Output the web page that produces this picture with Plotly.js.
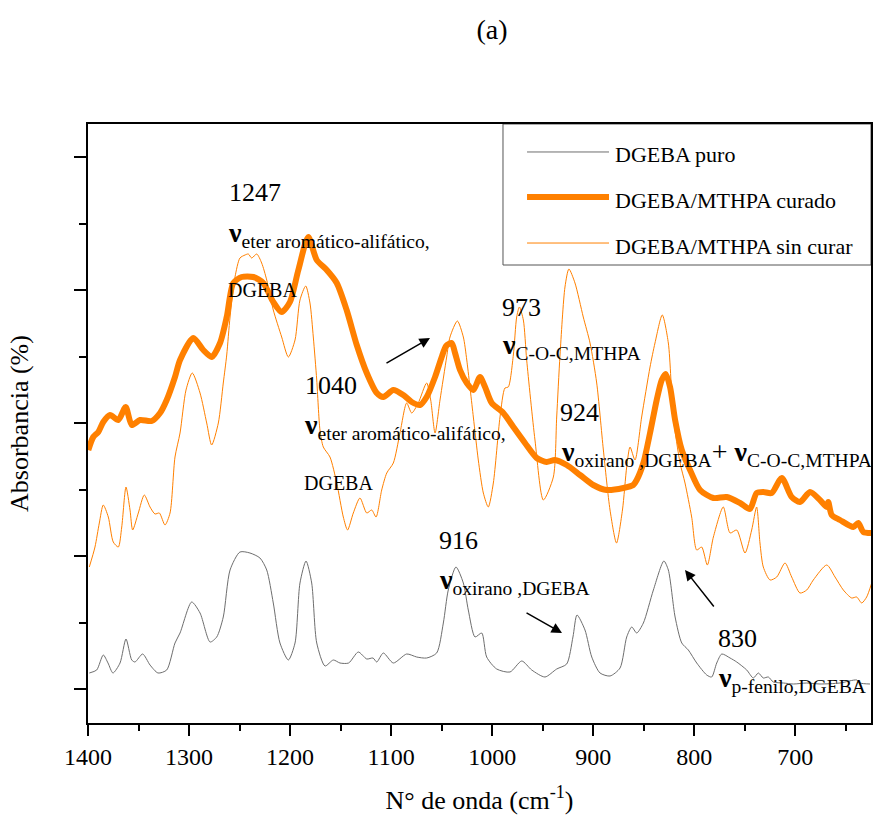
<!DOCTYPE html>
<html>
<head>
<meta charset="utf-8">
<script src="https://cdn.plot.ly/plotly-3.0.1.min.js"></script>
<style>html,body{margin:0;padding:0;background:#fff}</style>
</head>
<body>
<div id="chart" style="width:885px;height:816px"></div>
<script>
// FTIR spectra, 1400–625 cm-1: [wavenumber, absorbance (arbitrary, vertically offset)]
const puro = [
  [1398.7,0.50],[1391.4,0.53],[1384.9,0.68],[1380.2,0.60],[1375.3,0.50],[1368.3,0.60],[1362.4,0.84],
  [1356.7,0.63],[1353.5,0.61],[1345.9,0.69],[1338.6,0.58],[1330.7,0.50],[1322.1,0.53],[1313.9,0.80],
  [1308.9,0.90],[1297.4,1.21],[1289.1,1.10],[1279.2,0.81],[1272.6,0.86],[1266.1,1.06],[1259.4,1.53],
  [1249.6,1.71],[1239.7,1.70],[1229.8,1.65],[1223.1,1.53],[1216.6,1.20],[1210.0,0.80],[1201.7,0.63],
  [1195.1,0.80],[1190.2,1.40],[1184.2,1.62],[1178.6,1.40],[1173.6,0.80],[1165.4,0.57],[1157.2,0.63],
  [1150.6,0.60],[1142.0,0.60],[1132.5,0.71],[1124.1,0.64],[1117.9,0.65],[1114.2,0.61],[1107.7,0.70],
  [1097.8,0.60],[1084.6,0.69],[1074.7,0.66],[1064.8,0.65],[1054.9,0.70],[1048.3,1.00],[1043.4,1.33],
  [1035.8,1.56],[1028.5,1.40],[1023.6,1.13],[1016.9,0.86],[1010.3,0.90],[1005.4,0.66],[995.5,0.54],
  [982.3,0.51],[970.7,0.62],[960.8,0.53],[947.7,0.46],[936.1,0.54],[926.2,0.59],[920.0,0.86],
  [916.0,1.08],[908.1,0.93],[901.4,0.66],[893.2,0.50],[883.3,0.47],[873.4,0.55],[866.8,0.86],
  [861.8,0.96],[856.9,0.90],[850.3,1.00],[840.4,1.33],[830.0,1.62],[825.6,1.53],[818.9,1.06],
  [812.3,0.80],[805.8,0.73],[797.5,0.60],[787.6,0.48],[782.7,0.46],[777.7,0.60],[772.7,0.69],
  [764.5,0.65],[757.9,0.61],[748.0,0.53],[741.5,0.45],[736.5,0.50],[731.6,0.45],[726.6,0.46],
  [721.7,0.41],[711.8,0.40],[701.9,0.39],[688.6,0.40],[675.5,0.39],[655.7,0.40],[639.2,0.43],
  [635.9,0.40],[626.0,0.39]
];
const curado = [
  [1399.7,2.73],[1394.8,2.86],[1389.8,2.91],[1384.9,3.01],[1378.2,3.08],[1370.0,3.03],[1362.7,3.16],
  [1356.7,2.98],[1348.5,3.03],[1337.0,3.02],[1328.7,3.10],[1322.1,3.23],[1313.9,3.46],[1308.9,3.63],
  [1295.8,3.85],[1285.9,3.73],[1277.6,3.66],[1269.3,3.80],[1262.7,4.06],[1256.2,4.40],[1247.9,4.46],
  [1236.4,4.46],[1226.5,4.40],[1216.6,4.21],[1208.3,4.11],[1200.1,4.21],[1191.8,4.53],[1182.0,4.86],
  [1173.6,4.63],[1163.7,4.53],[1153.8,4.40],[1144.0,4.13],[1134.0,3.78],[1124.1,3.50],[1114.2,3.30],
  [1107.7,3.26],[1097.8,3.33],[1087.9,3.28],[1079.6,3.21],[1071.4,3.18],[1064.8,3.26],[1056.5,3.46],
  [1049.9,3.66],[1045.6,3.77],[1040.0,3.80],[1036.7,3.70],[1031.8,3.53],[1025.1,3.40],[1018.6,3.33],
  [1012.0,3.46],[1007.0,3.36],[1000.4,3.20],[988.9,3.10],[979.0,2.96],[967.5,2.80],[955.9,2.65],
  [946.0,2.61],[937.8,2.63],[926.2,2.58],[913.0,2.48],[899.9,2.38],[886.6,2.33],[870.1,2.35],
  [860.3,2.38],[856.9,2.43],[850.3,2.60],[843.7,2.90],[837.1,3.23],[832.1,3.43],[828.2,3.49],
  [823.9,3.36],[818.9,3.03],[812.3,2.73],[804.1,2.53],[794.2,2.33],[781.0,2.25],[767.8,2.26],
  [754.6,2.20],[744.8,2.14],[738.2,2.30],[731.6,2.31],[723.3,2.30],[713.4,2.45],[703.5,2.26],
  [695.3,2.21],[685.4,2.31],[675.5,2.23],[668.8,2.16],[667.3,2.21],[663.9,2.08],[655.7,2.03],
  [642.5,1.96],[637.6,2.00],[632.6,1.91],[624.3,1.90]
];
const sinCurar = [
  [1398.7,1.56],[1393.1,1.76],[1388.8,2.00],[1384.9,2.18],[1379.9,2.06],[1375.0,1.81],[1370.0,1.76],
  [1366.6,1.96],[1362.4,2.36],[1358.4,2.13],[1355.8,1.93],[1350.2,2.10],[1344.3,2.28],[1338.6,2.16],
  [1333.7,2.09],[1329.4,2.10],[1323.8,1.98],[1318.8,2.10],[1313.9,2.66],[1308.9,2.90],[1303.0,3.33],
  [1296.8,3.50],[1289.1,3.30],[1282.5,3.00],[1277.6,2.78],[1271.0,3.00],[1266.1,3.40],[1262.7,3.68],
  [1259.4,4.06],[1254.5,4.46],[1249.6,4.65],[1244.6,4.68],[1241.3,4.69],[1238.0,4.65],[1233.0,4.69],
  [1228.1,4.60],[1223.1,4.43],[1216.6,4.13],[1208.3,3.86],[1201.7,3.66],[1195.1,3.83],[1190.2,4.23],
  [1184.5,4.37],[1180.3,4.20],[1177.0,3.86],[1173.6,3.43],[1170.4,2.93],[1167.1,2.76],[1160.5,2.66],
  [1153.8,2.40],[1147.3,2.06],[1143.1,1.93],[1137.4,2.10],[1130.8,2.25],[1124.1,2.10],[1119.2,2.13],
  [1114.9,2.06],[1109.3,2.33],[1104.3,2.50],[1097.8,2.60],[1091.2,2.90],[1084.6,3.20],[1079.6,3.10],
  [1073.1,3.20],[1064.8,3.40],[1060.8,3.23],[1056.5,2.90],[1051.6,3.23],[1045.0,3.66],[1041.7,3.86],
  [1034.4,4.02],[1028.5,3.86],[1025.1,3.63],[1018.6,3.06],[1013.7,2.63],[1008.7,2.30],[1003.8,2.16],
  [998.8,2.40],[992.2,3.06],[987.3,3.35],[984.0,3.36],[979.0,3.68],[975.7,4.06],[973.0,4.16],
  [969.1,4.03],[965.8,3.63],[957.6,2.83],[949.3,2.23],[939.4,2.46],[936.1,3.06],[932.8,3.68],
  [927.9,4.36],[924.0,4.54],[918.0,4.40],[909.8,4.06],[903.1,3.80],[896.5,3.40],[889.9,2.73],
  [883.3,2.13],[876.9,1.80],[871.0,2.13],[866.8,2.56],[863.5,2.76],[858.6,2.63],[852.0,3.06],
  [843.7,3.56],[838.8,3.80],[831.6,4.08],[825.6,3.80],[820.7,3.06],[814.0,2.60],[809.1,2.40],
  [802.5,2.06],[797.5,1.73],[792.6,1.76],[787.0,1.58],[781.0,1.86],[771.2,2.16],[764.5,1.90],
  [757.9,1.93],[749.7,1.70],[743.1,1.93],[738.2,2.16],[734.9,1.80],[731.6,1.56],[724.9,1.43],
  [718.3,1.46],[710.1,1.60],[703.5,1.46],[695.3,1.30],[688.6,1.33],[682.1,1.43],[668.8,1.58],
  [660.6,1.46],[652.4,1.33],[644.1,1.25],[639.2,1.26],[634.2,1.20],[629.3,1.26],[624.3,1.40]
];

const seriesNames = ['DGEBA puro', 'DGEBA/MTHPA curado', 'DGEBA/MTHPA sin curar'];
const peakLabels = ['1247', '1040', '973', '924', '916', '830'];
const nu = '<b>ν</b>';
const bandLabels = [
  nu + '<sub>eter aromático-alifático,</sub>',
  nu + '<sub>eter aromático-alifático,</sub>',
  nu + '<sub>C-O-C,MTHPA</sub>',
  nu + '<sub>oxirano ,DGEBA</sub>+ ' + nu + '<sub>C-O-C,MTHPA</sub>',
  nu + '<sub>oxirano ,DGEBA</sub>',
  nu + '<sub>p-fenilo,DGEBA</sub>'
];

const FONT = 'Liberation Serif';
const ORANGE = '#ff8000';
const GRAY = '#6e6e6e';

function trace(data, name, color, width) {
  return {
    x: data.map(p => p[0]), y: data.map(p => p[1]), name: name,
    type: 'scatter', mode: 'lines', showlegend: false,
    line: {color: color, width: width, shape: 'spline', smoothing: 0.7}
  };
}

const traces = [
  trace(puro, seriesNames[0], GRAY, 1),
  trace(sinCurar, seriesNames[2], ORANGE, 1),
  trace(curado, seriesNames[1], ORANGE, 6)
];

function txt(x, y, text, size) {
  return {x: x, y: y, xref: 'x', yref: 'y', text: text, showarrow: false,
          xanchor: 'left', yanchor: 'middle', font: {family: FONT, size: size, color: '#000'}};
}
function arrow(x, y, ax, ay) {
  return {x: x, y: y, xref: 'x', yref: 'y', text: '', showarrow: true, ax: ax, ay: ay,
          arrowhead: 2, arrowsize: 1.4, arrowwidth: 1.5, arrowcolor: '#000'};
}

const annotations = [
  txt(1262.4, 5.31, peakLabels[0], 26),
  txt(1263.4, 4.89, bandLabels[0], 28),
  txt(1263.4, 4.33, 'DGEBA', 20),
  txt(1187.2, 3.38, peakLabels[1], 26),
  txt(1188.2, 2.97, bandLabels[1], 28),
  txt(1188.2, 2.40, 'DGEBA', 20),
  txt(992.2, 4.16, peakLabels[2], 26),
  txt(992.2, 3.77, bandLabels[2], 28),
  txt(934.8, 3.11, peakLabels[3], 26),
  txt(933.8, 2.70, bandLabels[3], 28),
  txt(1054.5, 1.83, peakLabels[4], 26),
  txt(1054.5, 1.42, bandLabels[4], 28),
  txt(778.4, 0.85, peakLabels[5], 26),
  txt(778.4, 0.44, bandLabels[5], 28),
  arrow(1061.5, 3.85, -45, 26),
  arrow(930.8, 0.90, -37, -21),
  arrow(809.1, 1.53, 30, 38)
];

// legend box drawn in plot-area (paper) coordinates
const legRows = [0.9533, 0.8781, 0.8013];
const legStyles = [[GRAY, 1], [ORANGE, 6], [ORANGE, 1]];
const shapes = [{
  type: 'rect', xref: 'paper', yref: 'paper', x0: 0.530, x1: 1, y0: 0.7646, y1: 1,
  line: {color: '#555', width: 1}, fillcolor: '#fff', layer: 'below'
}];
legRows.forEach((ry, i) => {
  shapes.push({type: 'line', xref: 'paper', yref: 'paper', x0: 0.5607, x1: 0.6654, y0: ry, y1: ry,
               line: {color: legStyles[i][0], width: legStyles[i][1]}});
  annotations.push({xref: 'paper', yref: 'paper', x: 0.6705, y: ry - 0.005, text: seriesNames[i],
                    showarrow: false, xanchor: 'left', yanchor: 'middle',
                    font: {family: FONT, size: 22, color: '#000'}});
});

const layout = {
  width: 885, height: 816,
  margin: {l: 88, r: 14, t: 124, b: 93, autoexpand: false},
  paper_bgcolor: '#fff', plot_bgcolor: '#fff',
  font: {family: FONT, color: '#000'},
  title: {text: '(a)', font: {family: FONT, size: 28, color: '#000'},
          xref: 'container', x: 492 / 885, xanchor: 'center',
          yref: 'container', y: 1 - 29 / 816, yanchor: 'middle'},
  xaxis: {
    range: [1400, 625], autorange: false, showgrid: false, zeroline: false,
    showline: true, linecolor: '#000', linewidth: 2, mirror: true,
    ticks: 'outside', ticklen: 11, tickwidth: 2, tickcolor: '#000',
    tickmode: 'linear', tick0: 1400, dtick: 100,
    minor: {ticks: 'outside', ticklen: 6, tickwidth: 2, tickcolor: '#000', tick0: 1400, dtick: 50},
    tickfont: {family: FONT, size: 24, color: '#000'},
    title: {text: 'N° de onda (cm<sup>-1</sup>)', font: {family: FONT, size: 26, color: '#000'}, standoff: 22}
  },
  yaxis: {
    range: [0, 5.99], autorange: false, showgrid: false, zeroline: false,
    showline: true, linecolor: '#000', linewidth: 2, mirror: true,
    ticks: 'outside', ticklen: 12, tickwidth: 2, tickcolor: '#000',
    tickmode: 'array', tickvals: [0.34, 1.67, 3.00, 4.33, 5.66], showticklabels: false,
    minor: {ticks: 'outside', ticklen: 7, tickwidth: 2, tickcolor: '#000',
            tickmode: 'array', tickvals: [1.00, 2.33, 3.66, 4.99]},
    title: {text: 'Absorbancia (%)', font: {family: FONT, size: 26, color: '#000'}, standoff: 38}
  },
  shapes: shapes,
  annotations: annotations
};

Plotly.newPlot('chart', traces, layout, {displayModeBar: false, staticPlot: true});
</script>
</body>
</html>
